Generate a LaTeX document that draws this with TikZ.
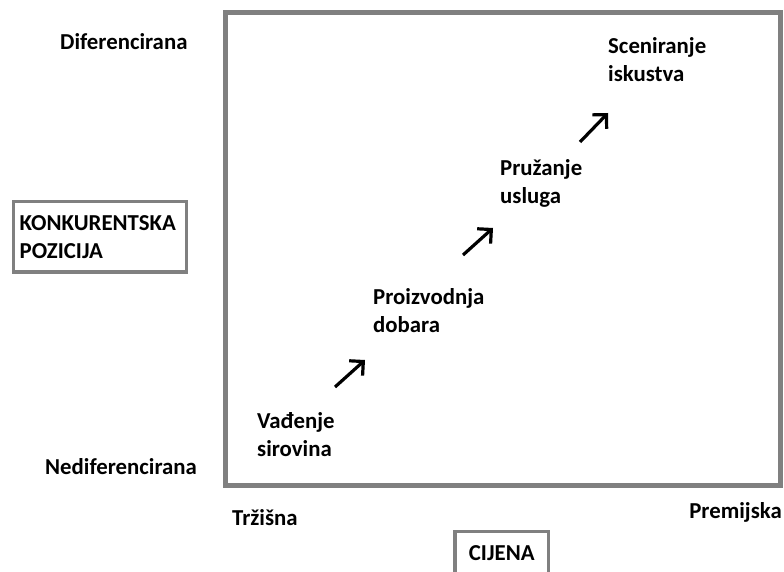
\documentclass[tikz,border=0pt]{standalone}
\usepackage{fontspec}
\setmainfont{Carlito}
\usetikzlibrary{arrows.meta}
\definecolor{framegray}{RGB}{128,128,128}
\begin{document}
\begin{tikzpicture}[x=1pt,y=-1pt,
  lbl/.style={font=\bfseries\fontsize{22.8}{28}\selectfont, align=left, inner sep=0pt, anchor=west},
  boxlbl/.style={font=\bfseries\fontsize{22.8}{28}\selectfont, draw=framegray, line width=3.5pt},
  stepar/.style={line width=3.2pt, -{Straight Barb[length=10pt,width=20pt,line width=3.2pt,sharp]}}]
\useasboundingbox (0,0) rectangle (784,572);
\draw[draw=framegray, line width=5pt] (225,12.5) rectangle (780.5,485.5);
% axis labels
\node[lbl] (dif) at (60,42) {Diferencirana};
\node[lbl] (nedif) at (45,467) {Nediferencirana};
\node[lbl] (trz) at (232,518) {Tržišna};
\node[lbl, anchor=east] (prem) at (782,512) {Premijska};
\node[boxlbl, align=left, anchor=north west, text width=160pt, minimum height=70pt, inner xsep=6.5pt, inner ysep=0pt] (kp) at (11.5,200) {KONKURENTSKA\\POZICIJA};
\node[boxlbl, minimum width=93.5pt, minimum height=44pt, inner sep=0pt] (cij) at (501.75,553.5) {CIJENA};
% stages
\node[lbl] (s1) at (257,435) {Vađenje\\sirovina};
\node[lbl] (s2) at (373,311) {Proizvodnja\\dobara};
\node[lbl] (s3) at (500,183) {Pružanje\\usluga};
\node[lbl] (s4) at (608,60) {Sceniranje\\iskustva};
% arrows
\coordinate (a1s) at (335,387); \coordinate (a1e) at (365,360);
\coordinate (a2s) at (463,255); \coordinate (a2e) at (493,228);
\coordinate (a3s) at (580,142); \coordinate (a3e) at (608,113);
\draw[stepar] (a1s) -- (a1e);
\draw[stepar] (a2s) -- (a2e);
\draw[stepar] (a3s) -- (a3e);
\end{tikzpicture}
\end{document}
